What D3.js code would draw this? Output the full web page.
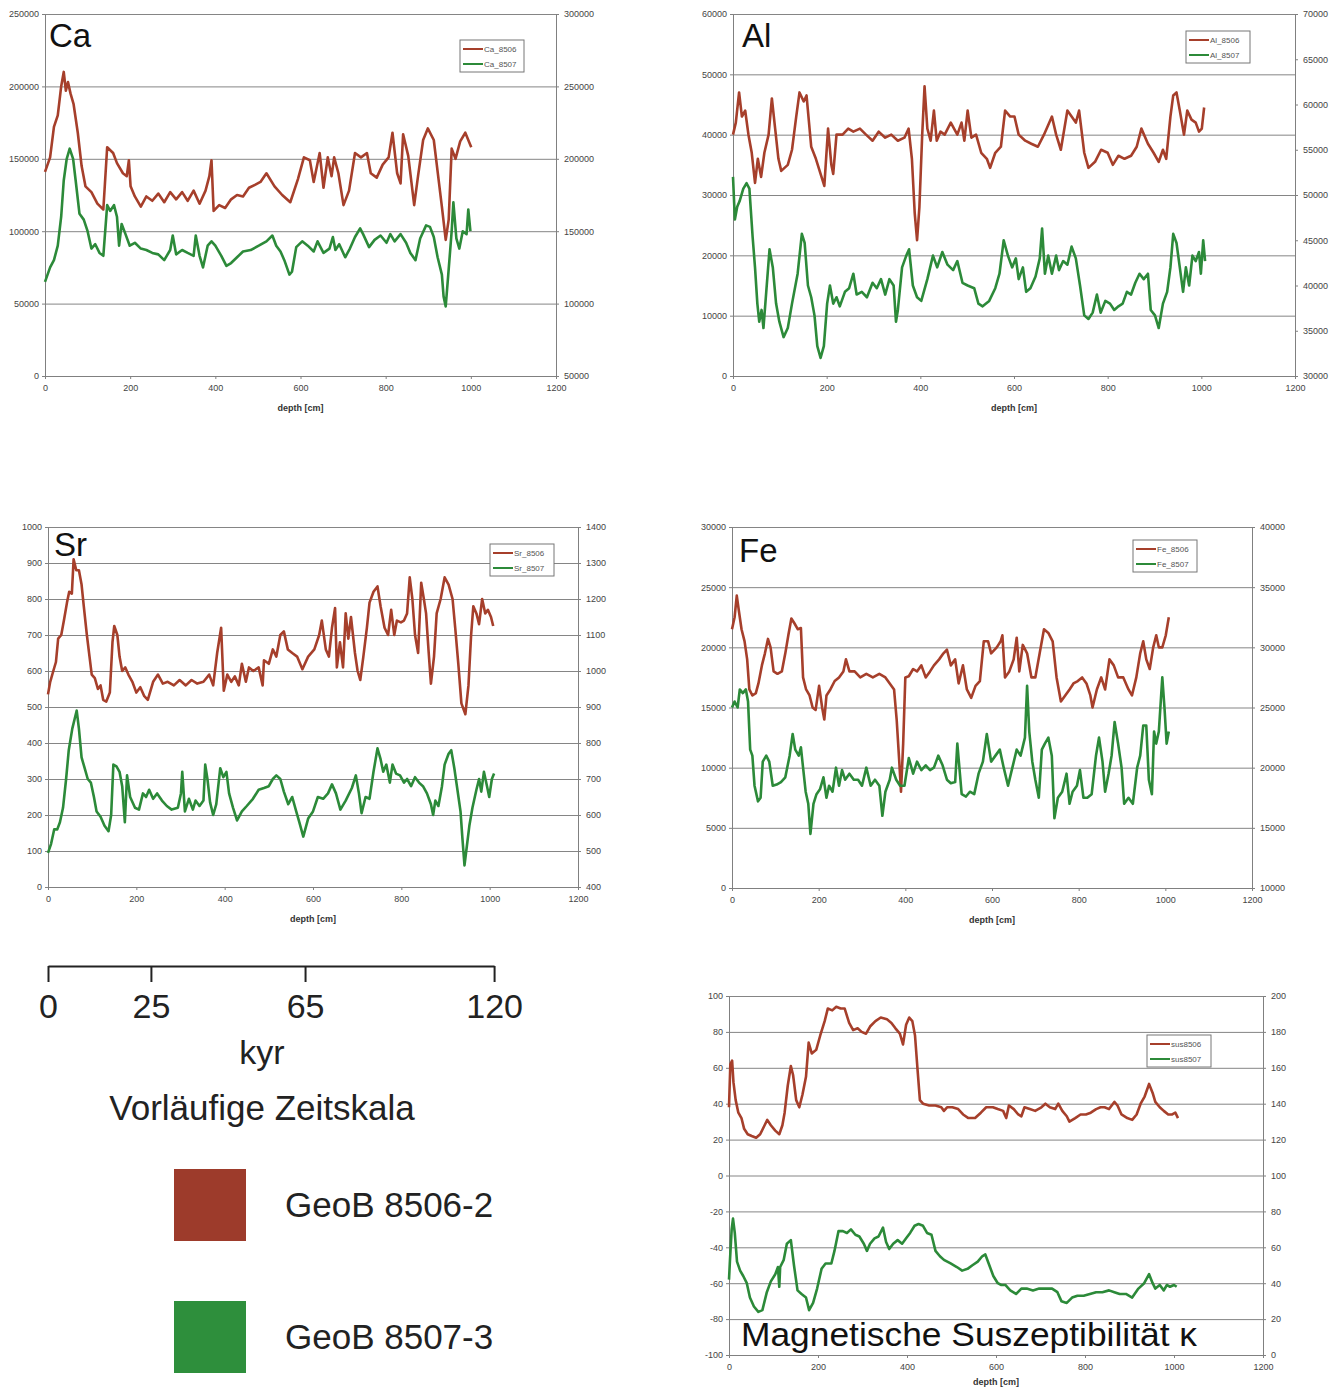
<!DOCTYPE html>
<html>
<head>
<meta charset="utf-8">
<script src="https://cdn.jsdelivr.net/npm/d3@7"></script>
<style>
  body { margin: 0; background: #fff; }
  svg { display: block; font-family: "Liberation Sans", Arial, sans-serif; }
  .ax .tick text { font-family: "Liberation Sans Narrow", "Liberation Sans", sans-serif; font-size: 9px; fill: #444; }
  .ax path, .ax line { stroke: #808080; }
  .grid line { stroke: #858585; }
</style>
</head>
<body>
<svg id="chart" width="1344" height="1390"></svg>
<script>
"use strict";

// ---- data (depth [cm], value) ----
const depthTicks = [0, 200, 400, 600, 800, 1000, 1200];

const caTicksL = [0, 50000, 100000, 150000, 200000, 250000];
const caTicksR = [50000, 100000, 150000, 200000, 250000, 300000];
const ca8506 = [[0,141000],[12,151000],[21,172000],[30,180000],[38,200000],[44,210000],[49,197000],[54,203000],[60,195000],[67,188000],[77,168000],[86,145000],[95,131000],[109,127000],[123,119000],[137,115000],[146,158000],[160,154000],[169,147000],[183,140000],[192,138000],[197,149000],[201,131000],[211,124000],[225,117000],[238,124000],[252,121000],[266,126000],[280,120000],[294,127000],[308,122000],[322,127000],[335,121000],[349,128000],[363,119000],[377,128000],[386,138000],[391,149000],[396,114000],[409,118000],[423,116000],[437,122000],[451,125000],[465,124000],[479,130000],[493,132000],[506,134000],[520,140000],[539,131000],[557,125000],[576,120000],[594,136000],[608,151000],[622,149000],[631,134000],[645,154000],[654,130000],[664,151000],[673,138000],[679,151000],[689,140000],[701,118000],[714,128000],[728,154000],[742,151000],[756,154000],[765,140000],[779,137000],[793,146000],[807,151000],[816,168000],[827,140000],[835,133000],[841,167000],[853,152000],[867,118000],[876,138000],[888,163000],[899,171000],[913,163000],[932,117000],[941,94000],[948,108000],[955,157000],[964,150000],[975,162000],[987,168000],[1001,158000]];
const ca8507 = [[0,115000],[12,125000],[21,130000],[30,140000],[38,160000],[44,185000],[51,200000],[58,207000],[66,200000],[72,185000],[81,162000],[91,158000],[100,150000],[109,138000],[118,141000],[128,135000],[137,133000],[146,168000],[153,164000],[162,168000],[169,160000],[174,140000],[180,155000],[189,148000],[199,140000],[211,142000],[225,138000],[238,137000],[252,135000],[266,134000],[280,130000],[294,137000],[300,147000],[308,134000],[322,137000],[335,135000],[349,133000],[354,147000],[363,133000],[371,125000],[382,140000],[391,143000],[400,140000],[414,133000],[426,126000],[437,128000],[451,132000],[465,136000],[483,137000],[502,140000],[520,143000],[534,147000],[543,140000],[553,136000],[562,130000],[574,120000],[580,122000],[590,139000],[604,143000],[617,140000],[631,136000],[640,143000],[654,135000],[668,138000],[676,146000],[682,137000],[691,141000],[705,132000],[716,138000],[728,146000],[740,152000],[747,148000],[761,139000],[774,144000],[788,147000],[802,142000],[811,148000],[821,143000],[835,148000],[848,142000],[858,135000],[870,130000],[881,145000],[895,154000],[904,153000],[913,146000],[922,132000],[932,120000],[936,105000],[941,98000],[947,120000],[955,150000],[959,170000],[966,145000],[973,138000],[981,150000],[990,148000],[994,165000],[999,150000]];

const alTicksL = [0, 10000, 20000, 30000, 40000, 50000, 60000];
const alTicksR = [30000, 35000, 40000, 45000, 50000, 55000, 60000, 65000, 70000];
const al8506 = [[0,40000],[6,42000],[13,47000],[19,43000],[26,44000],[33,40000],[40,37000],[47,32000],[53,36000],[60,33000],[67,37000],[76,40000],[83,46000],[90,41000],[97,36000],[103,34000],[117,35000],[126,37500],[135,43000],[142,47000],[151,45500],[157,46500],[167,38000],[177,36000],[189,33000],[195,31500],[203,41000],[210,35000],[214,33500],[221,40000],[234,40000],[246,41000],[257,40500],[271,41000],[284,40000],[298,39000],[311,40500],[325,39500],[338,40000],[352,39000],[366,39500],[375,41000],[382,36000],[388,27000],[393,22500],[398,28000],[404,40000],[409,48000],[415,41000],[422,39000],[429,44000],[435,39000],[443,40500],[452,40000],[465,42000],[479,40000],[488,42000],[494,39000],[501,44000],[509,39500],[519,40000],[530,37000],[542,36000],[549,34500],[560,37000],[572,38000],[581,44000],[592,43000],[601,43000],[610,40000],[624,39000],[637,38500],[651,38000],[664,40000],[681,43000],[690,40000],[700,37500],[714,44000],[723,43000],[732,42000],[739,44000],[750,37000],[759,34500],[773,35500],[786,37500],[800,37000],[811,35000],[823,36500],[836,36000],[850,36500],[862,38000],[872,41000],[886,38500],[898,37000],[909,35500],[918,37500],[925,36000],[934,43000],[940,46500],[947,47000],[954,44000],[963,40000],[970,44000],[979,42500],[988,42000],[995,40500],[1001,41000],[1006,44500]];
const al8507 = [[0,52000],[4,47300],[9,48700],[14,49300],[22,50700],[29,51300],[35,50700],[42,45300],[47,42000],[52,38000],[56,36000],[61,37300],[65,35300],[71,39300],[78,44000],[85,42000],[92,38000],[99,36000],[108,34300],[117,35300],[126,38000],[138,41300],[147,45700],[153,44700],[160,40000],[167,38700],[174,36700],[180,33300],[187,32000],[194,33300],[201,38000],[207,40000],[214,38000],[221,38700],[228,37700],[239,39300],[248,39700],[257,41300],[264,39000],[275,39300],[286,38700],[298,40300],[307,39700],[316,40700],[325,39000],[334,40700],[343,40000],[348,36000],[352,37300],[361,42000],[370,43300],[376,44000],[384,40000],[393,38700],[402,38300],[415,40700],[427,43300],[436,42000],[447,43700],[458,42300],[470,41700],[479,42700],[490,40300],[501,40000],[515,39700],[524,38000],[533,37700],[547,38300],[560,39700],[569,41300],[578,45000],[587,43300],[596,42000],[604,43000],[610,40700],[619,42000],[626,39300],[635,39700],[646,41000],[655,43000],[660,46300],[666,41300],[673,43300],[681,41300],[690,43300],[696,41700],[705,42700],[714,42300],[723,44300],[732,43000],[741,40000],[750,36700],[759,36300],[768,37000],[777,39000],[785,37000],[795,38300],[805,38000],[814,37300],[823,37700],[832,38000],[841,39300],[850,39000],[859,40300],[868,41300],[877,40700],[886,41300],[892,37300],[901,36700],[909,35300],[918,38000],[927,39300],[934,42000],[940,45700],[947,44700],[954,42000],[961,39300],[967,42000],[974,40000],[981,43300],[988,42700],[995,43700],[999,41300],[1004,45000],[1008,42700]];

const srTicksL = [0, 100, 200, 300, 400, 500, 600, 700, 800, 900, 1000];
const srTicksR = [400, 500, 600, 700, 800, 900, 1000, 1100, 1200, 1300, 1400];
const sr8506 = [[0,535],[5,570],[12,600],[18,625],[23,690],[30,700],[36,740],[43,790],[48,820],[54,815],[58,910],[64,880],[70,880],[76,840],[81,780],[88,700],[94,640],[99,590],[106,580],[113,550],[119,560],[125,520],[132,515],[140,540],[146,680],[150,725],[157,700],[162,640],[168,600],[175,610],[182,590],[191,570],[200,540],[209,555],[218,530],[226,520],[238,570],[249,590],[260,565],[271,570],[285,560],[298,575],[312,560],[325,575],[338,565],[352,570],[365,590],[374,560],[383,650],[392,720],[398,545],[406,590],[415,570],[423,585],[432,560],[439,620],[448,570],[455,610],[465,600],[477,610],[486,560],[489,630],[500,620],[509,660],[517,640],[526,700],[534,710],[543,660],[553,650],[564,640],[576,605],[589,640],[603,660],[614,700],[620,740],[629,660],[636,640],[643,720],[650,775],[654,610],[661,680],[668,610],[674,760],[680,690],[686,750],[695,650],[701,600],[707,575],[714,640],[722,720],[728,790],[737,820],[746,835],[753,780],[762,720],[770,700],[777,770],[784,700],[790,740],[799,735],[806,740],[813,760],[819,860],[825,800],[831,700],[838,650],[845,845],[851,800],[856,760],[862,650],[867,565],[874,640],[880,760],[889,800],[898,860],[907,840],[916,800],[922,720],[929,620],[936,510],[945,480],[952,560],[958,700],[963,780],[970,760],[976,730],[983,800],[990,760],[996,770],[1003,750],[1008,725]];
const sr8507 = [[0,495],[7,520],[14,560],[21,560],[27,580],[34,620],[41,700],[47,780],[55,840],[61,870],[65,890],[70,840],[76,760],[83,730],[90,700],[97,690],[104,650],[110,610],[119,595],[128,570],[137,555],[143,600],[148,740],[155,735],[162,720],[168,680],[174,580],[179,710],[186,650],[197,620],[206,615],[215,660],[222,650],[229,670],[238,645],[247,660],[258,640],[269,625],[280,615],[294,620],[301,660],[304,720],[310,610],[319,645],[328,615],[334,640],[343,625],[352,640],[356,740],[361,700],[367,635],[374,600],[381,630],[390,730],[397,705],[404,720],[410,660],[419,620],[428,585],[439,610],[450,625],[464,645],[477,670],[489,675],[500,680],[509,700],[517,710],[526,700],[534,665],[544,630],[553,650],[562,610],[569,580],[578,540],[589,590],[600,610],[611,650],[623,645],[634,660],[643,685],[652,660],[662,615],[674,640],[688,675],[697,710],[704,660],[710,605],[719,650],[728,645],[737,720],[746,785],[753,755],[759,720],[766,740],[774,690],[780,740],[788,715],[797,710],[806,690],[813,700],[822,680],[831,705],[840,690],[849,680],[858,660],[867,630],[872,600],[877,640],[884,625],[892,680],[898,740],[907,770],[913,780],[920,730],[927,670],[934,610],[938,540],[943,460],[947,500],[954,570],[961,620],[970,670],[976,700],[981,665],[987,720],[994,680],[999,650],[1005,700],[1010,715]];

const feTicksL = [0, 5000, 10000, 15000, 20000, 25000, 30000];
const feTicksR = [10000, 15000, 20000, 25000, 30000, 35000, 40000];
const fe8506 = [[0,21500],[6,22500],[11,24300],[16,23000],[22,21500],[29,20500],[35,19000],[40,16500],[47,16000],[55,16200],[61,17000],[69,18500],[76,19500],[83,20700],[89,20000],[96,18000],[105,17800],[115,18000],[123,19500],[130,21000],[137,22400],[144,22000],[152,21500],[159,21600],[164,17500],[171,16500],[179,16000],[186,15000],[193,14800],[201,16800],[208,15000],[213,14000],[218,16000],[227,16500],[237,17200],[247,17500],[257,18000],[263,19000],[271,18000],[283,18000],[296,17500],[310,17800],[325,17500],[340,17800],[354,17500],[364,17000],[374,16500],[380,14000],[386,10500],[390,8000],[395,12000],[400,17500],[408,17600],[418,18200],[427,18000],[437,18500],[447,17500],[457,18000],[466,18500],[478,19000],[488,19500],[496,19800],[505,18500],[515,19000],[523,17000],[533,18500],[542,16500],[552,15800],[562,16800],[572,17200],[581,20500],[591,20500],[598,19500],[611,20000],[620,20500],[624,21000],[630,17500],[640,18000],[650,19000],[657,20800],[663,18000],[671,20200],[681,19500],[691,17500],[700,17500],[710,19500],[720,21500],[730,21200],[740,20500],[749,17500],[759,15500],[769,16000],[779,16500],[788,17000],[798,17200],[808,17500],[818,17000],[827,16000],[832,15000],[842,16500],[852,17500],[861,16500],[871,19000],[881,18500],[891,17500],[903,17500],[915,16500],[923,16000],[933,17500],[942,19500],[949,20500],[956,19000],[964,18200],[972,20000],[979,21000],[985,20000],[993,20000],[1001,21000],[1008,22500]];
const fe8507 = [[0,25000],[6,25500],[13,25000],[18,26500],[25,26200],[32,26500],[37,25500],[42,21500],[47,21000],[52,18500],[60,17200],[66,17500],[71,20500],[79,21000],[86,20500],[94,18500],[103,18600],[113,18800],[123,19200],[133,21000],[140,22800],[146,21500],[154,21000],[159,21700],[164,20000],[170,18000],[176,17000],[181,14500],[188,17000],[195,17800],[203,18200],[211,19200],[218,17500],[224,18500],[232,18000],[240,20000],[247,18500],[254,19800],[261,19000],[271,19500],[281,19000],[291,19000],[300,18500],[310,20000],[320,18500],[330,19000],[340,18500],[347,16000],[354,18000],[364,19000],[369,20000],[379,19000],[388,18500],[398,18500],[408,20800],[418,19500],[427,20500],[437,19800],[447,20200],[457,19800],[466,20000],[476,21000],[486,20200],[496,19000],[505,18700],[515,18800],[520,22000],[530,17800],[540,17600],[549,18000],[559,17800],[569,19500],[579,20500],[588,22800],[598,20500],[608,21000],[618,21500],[627,20000],[637,18500],[647,20000],[657,21500],[666,21000],[676,22500],[681,26800],[686,23000],[693,20500],[700,19000],[708,17500],[715,21500],[722,22000],[730,22500],[738,21000],[744,15800],[752,17500],[762,18000],[772,19500],[779,17000],[786,18000],[796,18500],[803,19800],[811,17500],[820,17500],[830,17800],[840,21000],[847,22500],[855,20500],[861,18000],[869,19500],[876,21000],[883,23800],[891,22000],[899,20000],[905,17000],[915,17500],[925,17000],[935,20000],[942,21000],[949,23500],[956,23500],[962,19000],[969,17800],[974,23000],[979,22000],[985,23000],[993,27500],[998,25000],[1003,22000],[1008,23000]];

const susTicksL = [-100, -80, -60, -40, -20, 0, 20, 40, 60, 80, 100];
const susTicksR = [0, 20, 40, 60, 80, 100, 120, 140, 160, 180, 200];
const sus8506 = [[0,38],[3,62],[7,64],[10,52],[15,42],[21,35],[28,32],[34,26],[42,23],[51,22],[61,21],[70,23],[80,28],[86,31],[94,28],[104,25],[113,23],[120,28],[125,35],[132,50],[139,61],[144,56],[151,42],[158,38],[165,45],[173,55],[179,74],[186,68],[196,70],[205,78],[215,86],[222,93],[232,92],[241,94],[251,93],[260,93],[270,85],[279,81],[289,82],[298,80],[308,79],[317,83],[329,86],[341,88],[355,87],[365,85],[374,82],[384,79],[391,73],[398,84],[405,88],[412,86],[418,78],[424,58],[429,42],[436,40],[450,39],[464,39],[477,38],[483,36],[490,38],[502,38],[515,37],[526,34],[538,32],[553,32],[566,35],[578,38],[593,38],[604,37],[616,36],[623,32],[629,39],[640,37],[650,34],[657,33],[664,38],[676,37],[688,36],[702,38],[711,40],[721,38],[733,37],[740,40],[749,36],[759,33],[765,30],[778,32],[790,34],[802,34],[813,35],[825,37],[835,38],[844,38],[854,37],[866,41],[873,39],[882,34],[895,32],[906,31],[916,34],[925,40],[934,44],[944,51],[952,46],[958,41],[968,38],[977,36],[987,34],[996,34],[1003,35],[1009,32]];
const sus8507 = [[0,42],[2,52],[6,70],[9,76],[13,68],[18,52],[25,47],[32,44],[40,40],[47,32],[56,27],[66,24],[75,25],[85,35],[94,41],[104,45],[110,49],[113,38],[115,49],[123,53],[130,62],[139,64],[146,50],[154,36],[163,34],[173,32],[180,25],[189,29],[198,37],[208,48],[217,51],[230,51],[237,58],[246,69],[256,69],[265,68],[274,70],[284,67],[293,66],[303,62],[310,58],[317,62],[327,65],[336,66],[346,71],[353,63],[360,59],[369,62],[379,64],[389,62],[398,65],[407,68],[417,72],[426,73],[436,72],[445,68],[455,67],[464,58],[474,55],[483,53],[498,51],[512,49],[524,47],[536,48],[547,50],[559,52],[569,55],[576,56],[585,50],[594,44],[604,40],[612,39],[621,39],[632,36],[645,34],[657,37],[669,37],[683,36],[697,37],[711,37],[726,37],[738,35],[747,30],[759,29],[771,32],[783,33],[797,33],[811,34],[825,35],[839,35],[854,36],[866,35],[878,34],[892,34],[906,32],[920,37],[933,40],[944,45],[952,40],[958,37],[968,39],[977,36],[984,39],[991,38],[1000,39],[1006,38]];

// preliminary time scale: age ticks placed at depths on the core
const kyrLabels = [0, 25, 65, 120];
const kyrDepths = [0, 233, 582, 1010];

const cores = ["GeoB 8506-2", "GeoB 8507-3"];
const RED = "#a63f2b";
const GREEN = "#2c8a39";

// ---- drawing ----
const svg = d3.select("#chart");

function drawPanel(p) {
    const g = svg.append("g");
    const x = d3.scaleLinear().domain([0, 1200]).range([p.left, p.right]);
    const yL = d3.scaleLinear().domain(d3.extent(p.ticksL)).range([p.bottom, p.top]);
    const yR = d3.scaleLinear().domain(d3.extent(p.ticksR)).range([p.bottom, p.top]);
    const fmt = d => String(d);

    // horizontal gridlines at the primary ticks
    g.append("g").attr("class", "grid")
        .attr("transform", `translate(${p.left},0)`)
        .call(d3.axisLeft(yL).tickValues(p.ticksL.slice(1)).tickSize(-(p.right - p.left)).tickFormat(""))
        .call(s => s.select(".domain").remove());

    g.append("g").attr("class", "ax")
        .attr("transform", `translate(${p.left},0)`)
        .call(d3.axisLeft(yL).tickValues(p.ticksL).tickSize(3).tickSizeOuter(0).tickPadding(3).tickFormat(fmt));

    g.append("g").attr("class", "ax")
        .attr("transform", `translate(${p.right},0)`)
        .call(d3.axisRight(yR).tickValues(p.ticksR).tickSize(3).tickSizeOuter(0).tickPadding(5).tickFormat(fmt));

    g.append("g").attr("class", "ax")
        .attr("transform", `translate(0,${p.bottom})`)
        .call(d3.axisBottom(x).tickValues(depthTicks).tickSize(3).tickSizeOuter(0).tickPadding(6).tickFormat(fmt));

    g.append("text")
        .attr("x", (p.left + p.right) / 2).attr("y", p.bottom + (p.xLabelGap || 35))
        .attr("text-anchor", "middle")
        .style("font-family", "'Liberation Sans Narrow','Liberation Sans',sans-serif")
        .style("font-size", "9px").style("font-weight", "bold").attr("fill", "#333")
        .text("depth [cm]");

    const lineL = d3.line().x(d => x(d[0])).y(d => yL(d[1]));
    const lineR = d3.line().x(d => x(d[0])).y(d => yR(d[1]));

    g.append("path").datum(p.red)
        .attr("fill", "none").attr("stroke", RED).attr("stroke-width", 2.6)
        .attr("stroke-linejoin", "round").attr("d", lineL);
    g.append("path").datum(p.green)
        .attr("fill", "none").attr("stroke", GREEN).attr("stroke-width", 2.6)
        .attr("stroke-linejoin", "round").attr("d", lineR);

    // element label
    const t = g.append("text")
        .attr("x", p.titleX).attr("y", p.titleY)
        .style("font-size", (p.titleSize || 33) + "px").attr("fill", "#111")
        .text(p.title);
    if (p.titleLen) t.attr("textLength", p.titleLen).attr("lengthAdjust", "spacingAndGlyphs");

    // small legend box
    const lg = g.append("g").attr("transform", `translate(${p.legX},${p.legY})`);
    lg.append("rect").attr("width", 64).attr("height", 32)
        .attr("fill", "#fff").attr("stroke", "#777").attr("stroke-width", 1);
    p.names.forEach((n, i) => {
        const yy = 9 + i * 15;
        lg.append("line").attr("x1", 3).attr("x2", 23).attr("y1", yy).attr("y2", yy)
            .attr("stroke", i === 0 ? RED : GREEN).attr("stroke-width", 2);
        lg.append("text").attr("x", 24).attr("y", yy + 3)
            .style("font-family", "'Liberation Sans Narrow','Liberation Sans',sans-serif")
            .style("font-size", "8px").attr("fill", "#555").text(n);
    });
}

const panels = [
    { title: "Ca", left: 45, right: 556, top: 14, bottom: 376, ticksL: caTicksL, ticksR: caTicksR,
      red: ca8506, green: ca8507, names: ["Ca_8506", "Ca_8507"], titleX: 49, titleY: 47, legX: 460, legY: 40 },
    { title: "Al", left: 733, right: 1295, top: 14, bottom: 376, ticksL: alTicksL, ticksR: alTicksR,
      red: al8506, green: al8507, names: ["Al_8506", "Al_8507"], titleX: 742, titleY: 47, legX: 1186, legY: 31 },
    { title: "Sr", left: 48, right: 578, top: 527, bottom: 887, ticksL: srTicksL, ticksR: srTicksR,
      red: sr8506, green: sr8507, names: ["Sr_8506", "Sr_8507"], titleX: 54, titleY: 556, legX: 490, legY: 544 },
    { title: "Fe", left: 732, right: 1252, top: 527, bottom: 888, ticksL: feTicksL, ticksR: feTicksR,
      red: fe8506, green: fe8507, names: ["Fe_8506", "Fe_8507"], titleX: 739, titleY: 562, legX: 1133, legY: 540 },
    { title: "Magnetische Suszeptibilität κ", left: 729, right: 1263, top: 996, bottom: 1355, ticksL: susTicksL, ticksR: susTicksR,
      red: sus8506, green: sus8507, names: ["sus8506", "sus8507"], titleX: 741, titleY: 1346, titleSize: 33, titleLen: 456,
      legX: 1147, legY: 1035, xLabelGap: 30 }
];
panels.forEach(drawPanel);

// ---- time scale (bottom left) ----
const srX = d3.scaleLinear().domain([0, 1200]).range([48, 578]);
const kyrX = d3.scaleLinear().domain([0, d3.max(kyrDepths)]).range([srX(0), srX(d3.max(kyrDepths))]);
const tAxis = svg.append("g").attr("transform", "translate(0,966)")
    .call(d3.axisBottom(kyrX).tickValues(kyrDepths).tickSize(16).tickSizeOuter(0).tickPadding(12)
        .tickFormat((d, i) => kyrLabels[i]));
tAxis.selectAll("path, line").attr("stroke", "#222").attr("stroke-width", 2);
tAxis.selectAll("text").style("font-family", "'Liberation Sans',Arial,sans-serif")
    .style("font-size", "34px").attr("fill", "#222");

svg.append("text").attr("x", 262).attr("y", 1064).attr("text-anchor", "middle")
    .style("font-size", "34px").attr("fill", "#222").text("kyr");
svg.append("text").attr("x", 262).attr("y", 1120).attr("text-anchor", "middle")
    .style("font-size", "35px").attr("fill", "#222").text("Vorläufige Zeitskala");

// core legend
const coreColor = d3.scaleOrdinal().domain(cores).range(["#9d3b2b", "#2e8f3c"]);
const cl = svg.append("g").selectAll("g").data(cores).join("g")
    .attr("transform", (d, i) => `translate(174,${1169 + i * 132})`);
cl.append("rect").attr("width", 72).attr("height", 72).attr("fill", d => coreColor(d));
cl.append("text").attr("x", 111).attr("y", 48)
    .style("font-size", "35px").attr("fill", "#222").text(d => d);
</script>
</body>
</html>
